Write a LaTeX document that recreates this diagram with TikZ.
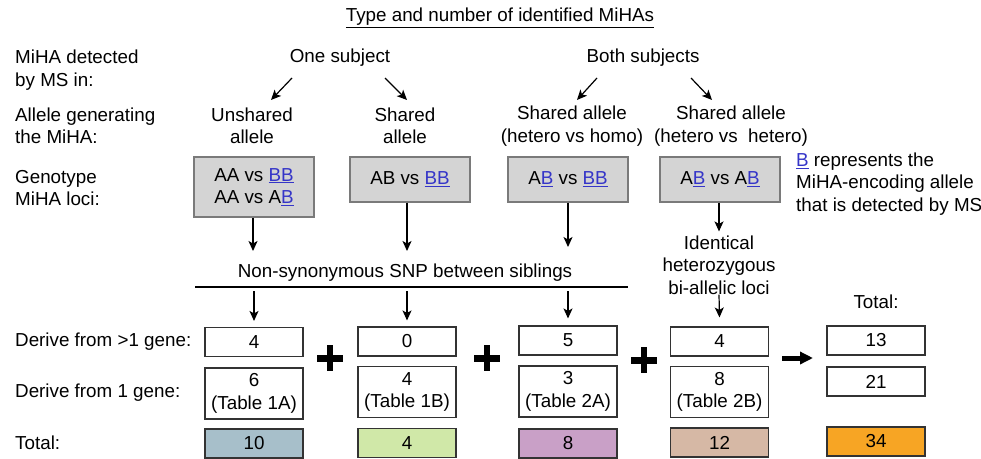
\documentclass[tikz,border=0pt]{standalone}
\usepackage{fontspec}
\setmainfont{Liberation Sans}
\usetikzlibrary{arrows.meta}
\definecolor{linkblue}{HTML}{3535C8}
\definecolor{grayfill}{HTML}{D4D4D4}
\definecolor{grayline}{HTML}{7A7A7A}
\definecolor{cA}{HTML}{A7BFCA}
\definecolor{cB}{HTML}{D0E8A8}
\definecolor{cC}{HTML}{C9A0C7}
\definecolor{cD}{HTML}{D6B8A5}
\definecolor{cT}{HTML}{F7A524}
\newcommand{\ubl}[1]{\textcolor{linkblue}{\underline{#1}}}
\begin{document}
\begin{tikzpicture}[x=1pt,y=-1pt,
  every node/.style={font=\fontsize{18.8}{22.5}\selectfont, inner sep=0pt},
  txt/.style={align=center},
  lbl/.style={anchor=west, align=left},
  graybox/.style={draw=grayline, fill=grayfill, line width=1.2pt, minimum width=120pt, align=center},
  numbox/.style={draw=black!80, line width=1.1pt, minimum width=98pt, align=center},
  arr/.style={-{Stealth[length=10pt,width=9pt,inset=2.5pt]}, line width=1.2pt},
  bigarr/.style={-{Triangle[length=13pt,width=12pt]}, line width=5pt},
  plussign/.style={minimum size=26pt, path picture={
     \draw[line width=7pt] (path picture bounding box.west) -- (path picture bounding box.east);
     \draw[line width=6.5pt] (path picture bounding box.north) -- (path picture bounding box.south);}}
]
\useasboundingbox (0,0) rectangle (981,458);

% title
\node[txt] (title) at (500,18) {\underline{Type and number of identified MiHAs}};

% left labels
\node[lbl] (l1) at (15,70) {MiHA detected\\by MS in:};
\node[lbl] (l2) at (15,126) {Allele generating\\the MiHA:};
\node[lbl] (l3) at (15,188) {Genotype\\MiHA loci:};
\node[lbl] (l4) at (15,342) {Derive from >1 gene:};
\node[lbl] (l5) at (15,393) {Derive from 1 gene:};
\node[lbl] (l6) at (15,443) {Total:};

% level 1
\node[txt] (one) at (340,58) {One subject};
\node[txt] (both) at (643,58) {Both subjects};

% level 2
\node[txt] (unsh) at (252,126) {Unshared\\allele};
\node[txt] (shar) at (405,126) {Shared\\allele};
\node[txt] (shho) at (572,126) {Shared allele\\(hetero vs homo)};
\node[txt] (shhe) at (731,126) {Shared allele\\(hetero vs\ \ hetero)};

\coordinate (o1) at (292,78); \coordinate (o1e) at (271,100);
\coordinate (o2) at (385,78); \coordinate (o2e) at (407,100);
\coordinate (b1) at (597,78); \coordinate (b1e) at (577,100);
\coordinate (b2) at (691,78); \coordinate (b2e) at (712,100);
\draw[arr] (o1) -- (o1e);
\draw[arr] (o2) -- (o2e);
\draw[arr] (b1) -- (b1e);
\draw[arr] (b2) -- (b2e);

% genotype boxes
\node[graybox, minimum height=60pt] (g1) at (254,187) {AA vs \ubl{BB}\\AA vs A\ubl{B}};
\node[graybox, minimum height=45pt] (g2) at (410,179.5) {AB vs \ubl{BB}};
\node[graybox, minimum height=45pt] (g3) at (568,179.5) {A\ubl{B} vs \ubl{BB}};
\node[graybox, minimum height=45pt] (g4) at (720,179.5) {A\ubl{B} vs A\ubl{B}};

\node[lbl] (note) at (796,184) {\ubl{B} represents the\\MiHA-encoding allele\\that is detected by MS};

% arrows to SNP line
\coordinate (e1) at (253,251);
\coordinate (e2) at (407,251);
\coordinate (e3) at (568,247);
\draw[arr] (g1.south -| e1) -- (e1);
\draw[arr] (g2.south -| e2) -- (e2);
\draw[arr] (g3.south -| e3) -- (e3);

\node[txt] (snp) at (405,273) {Non-synonymous SNP between siblings};
\coordinate (lineL) at (195,287);
\coordinate (lineR) at (628,287);
\draw[line width=1.1pt] (lineL) -- (lineR);

\node[txt] (ident) at (719,265) {Identical\\heterozygous\\bi-allelic loci};
\draw[arr] (g4.south -| ident) -- ([yshift=4pt]ident.north);

\node[txt] (tot) at (876,302) {Total:};

% number boxes row 1
\node[numbox, minimum height=29pt] (a1) at (254,342) {4};
\node[numbox, minimum height=29pt] (bb1) at (407,341.5) {0};
\node[numbox, minimum height=29pt] (c1) at (568,340.5) {5};
\node[numbox, minimum height=29pt] (d1) at (719.5,341.5) {4};
\node[numbox, minimum height=29pt] (t1) at (876,340.5) {13};

% row 2
\node[numbox, minimum height=51pt] (a2) at (254,393.5) {6\\(Table 1A)};
\node[numbox, minimum height=51pt] (bb2) at (407,392) {4\\(Table 1B)};
\node[numbox, minimum height=51pt] (c2) at (568,391.5) {3\\(Table 2A)};
\node[numbox, minimum height=51pt] (d2) at (719.5,392) {8\\(Table 2B)};
\node[numbox, minimum height=29pt] (t2) at (876,381.5) {21};

% row 3
\node[numbox, fill=cA, minimum height=29pt] (a3) at (254,443.5) {10};
\node[numbox, fill=cB, minimum height=29pt] (bb3) at (407,443) {4};
\node[numbox, fill=cC, minimum height=29pt] (c3) at (568,443.5) {8};
\node[numbox, fill=cD, minimum height=29pt] (d3) at (719.5,442.5) {12};
\node[numbox, fill=cT, minimum height=29pt] (t3) at (876,441.5) {34};

% arrows to row 1
\draw[arr] (lineL -| a1) ++(0,4) -- ([yshift=6pt]a1.north);
\draw[arr] (lineL -| bb1) ++(0,4) -- ([yshift=6pt]bb1.north);
\draw[arr] (lineL -| c1) ++(0,4) -- ([yshift=7pt]c1.north);
\draw[arr] (ident.south) -- ([yshift=9pt]d1.north);

% plus signs
\node[plussign] (p1) at (330,358) {};
\node[plussign] (p2) at (487,358) {};
\node[plussign] (p3) at (644,360) {};

% big arrow
\coordinate (ba) at (782,358);
\coordinate (bae) at (813,358);
\draw[bigarr] (ba) -- (bae);
\end{tikzpicture}
\end{document}
